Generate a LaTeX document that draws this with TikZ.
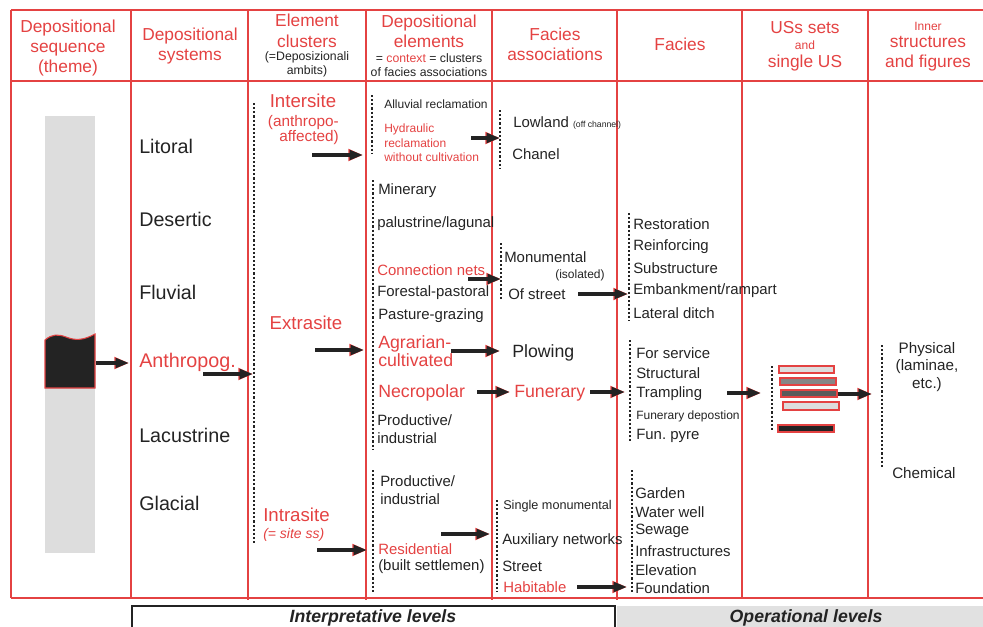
\documentclass[tikz,border=0pt]{standalone}
\usepackage{fontspec}
\setmainfont{Liberation Sans}
\usetikzlibrary{arrows.meta}
\definecolor{tabred}{RGB}{228,66,66}
\definecolor{txt}{RGB}{35,35,35}
\definecolor{colgray}{RGB}{221,221,221}
\definecolor{boxgray}{RGB}{225,225,225}
\frenchspacing

\begin{document}
\begin{tikzpicture}
  [x=0.75pt,y=-0.75pt,
   every node/.style={inner sep=0pt,text=txt,font=\fontsize{11.2}{13.5}\selectfont},
   lt/.style={anchor=west,align=left},
   rd/.style={text=tabred},
   hd/.style={text=tabred,align=center,font=\fontsize{13}{14.8}\selectfont},
   hsm/.style={align=center,font=\fontsize{9.2}{10.5}\selectfont},
   sys/.style={anchor=west,font=\fontsize{14.8}{17}\selectfont},
   clu/.style={text=tabred,font=\fontsize{14}{16}\selectfont},
   big/.style={font=\fontsize{13.3}{13.5}\selectfont},
   sm/.style={font=\fontsize{9}{11}\selectfont},
   grid/.style={draw=tabred,line width=1pt},
   dots/.style={draw=txt,line width=1.9pt,dash pattern=on 1.6pt off 1.5pt},
   bar/.style={draw=tabred,line width=0.8pt},
   flow/.style={draw=txt,line width=2.5pt,-{Triangle[length=10pt,width=7pt]},
     preaction={draw=tabred,line width=3.5pt,-{Triangle[length=11pt,width=8.5pt]}}}]

  \useasboundingbox (0,0) rectangle (983,626);

  \fill[colgray] (45,116) rectangle (95,553);
  \draw[tabred,fill=txt,line width=0.8pt] (45,340) .. controls (52,334) and (58,334) .. (66,337)
    .. controls (76,341) and (84,340) .. (95,334) -- (95,388) -- (45,388) -- cycle;

  \draw[grid] (11,10) -- (983,10);
  \draw[grid] (11,81) -- (983,81);
  \draw[grid] (11,598) -- (983,598);
  \draw[grid] (11,10) -- (11,598);
  \draw[grid] (131,10) -- (131,598);
  \draw[grid] (248,10) -- (248,600);
  \draw[grid] (366,10) -- (366,600);
  \draw[grid] (492,10) -- (492,600);
  \draw[grid] (617,10) -- (617,600);
  \draw[grid] (742,10) -- (742,598);
  \draw[grid] (868,10) -- (868,598);

  \draw[txt,line width=0.8pt] (132,635) -- (132,606) -- (615,606) -- (615,635);
  \fill[boxgray] (617,606) rectangle (990,635);

  \node[hd] (h1) at (68,48) {Depositional\\sequence\\(theme)};
  \node[hd] (h2) at (190,46) {Depositional\\systems};
  \node[hd,font=\fontsize{13}{15.8}\selectfont] (h3) at (307,31) {Element\\clusters};
  \node[hsm] (h3s) at (307,64) {(=Deposizionali\\ambits)};
  \node[hd,font=\fontsize{13}{15}\selectfont] (h4) at (429,31) {Depositional\\elements};
  \node[hsm] (h4s) at (429,65) {= {\color{tabred}context} = clusters\\of facies associations};
  \node[hd] (h5) at (555,44) {Facies\\associations};
  \node[hd] (h6) at (680,44) {Facies};
  \node[hd] (h7a) at (805,28) {USs sets};
  \node[hd,font=\fontsize{9}{10}\selectfont] (h7b) at (805,45) {and};
  \node[hd] (h7c) at (805,63) {single US};
  \node[hd,font=\fontsize{9}{10}\selectfont] (h8a) at (928,26) {Inner};
  \node[hd] (h8b) at (928,54) {structures\\and figures};

  \node[sys] (lit) at (139,146) {Litoral};
  \node[sys] (des) at (139,219) {Desertic};
  \node[sys] (flu) at (139,292) {Fluvial};
  \node[sys,rd] (ant) at (139,362) {Anthropog.};
  \node[sys] (lac) at (139,435) {Lacustrine};
  \node[sys] (gla) at (139,503) {Glacial};

  \draw[dots] (254,103) -- (254,545);
  \node[clu] (inter) at (303,101) {Intersite};
  \node[anchor=east,align=right,rd,font=\fontsize{11.5}{11.8}\selectfont] (interb) at (339,130) {(anthropo-\\affected)};
  \node[clu] (extra) at (306,323) {Extrasite};
  \node[clu,anchor=west] (intra) at (263,515) {Intrasite};
  \node[lt,rd,font=\fontsize{10.5}{12}\selectfont\itshape] (intrab) at (263,535) {(= site ss)};

  \draw[dots] (372,95) -- (372,154);
  \draw[dots] (373,180) -- (373,450);
  \draw[dots] (373,470) -- (373,592);
  \node[lt,sm] (alu) at (384,104) {Alluvial reclamation};
  \node[lt,sm,rd] (hyd) at (384,143) {Hydraulic\\reclamation\\without cultivation};
  \node[lt] (min) at (378,191) {Minerary};
  \node[lt] (pal) at (377,224) {palustrine/lagunal};
  \node[lt,rd] (con) at (377,270) {Connection nets};
  \node[lt] (for) at (377,293) {Forestal-pastoral};
  \node[lt] (pas) at (378,316) {Pasture-grazing};
  \node[lt,rd,big] (agr) at (378,351) {Agrarian-\\cultivated};
  \node[lt,rd,big] (nec) at (378,393) {Necropolar};
  \node[lt] (pro1) at (377,429) {Productive/\\industrial};
  \node[lt] (pro2) at (380,490) {Productive/\\industrial};
  \node[lt,rd] (res) at (378,549) {Residential};
  \node[lt] (bui) at (378,567) {(built settlemen)};

  \draw[dots] (500,110) -- (500,168);
  \draw[dots] (501,243) -- (501,300);
  \draw[dots] (497,500) -- (497,591);
  \node[lt] (low) at (513,123) {Lowland {\fontsize{6.5}{8}\selectfont(off channel)}};
  \node[lt] (cha) at (512,154) {Chanel};
  \node[lt] (mon) at (504,257) {Monumental};
  \node[lt,font=\fontsize{9}{10}\selectfont] (iso) at (555,275) {(isolated)};
  \node[lt] (ofs) at (508,294) {Of street};
  \node[lt,big] (plo) at (512,353) {Plowing};
  \node[lt,rd,big] (fun) at (514,393) {Funerary};
  \node[lt,font=\fontsize{9.5}{11}\selectfont] (sin) at (503,506) {Single monumental};
  \node[lt] (aux) at (502,541) {Auxiliary networks};
  \node[lt] (str) at (502,566) {Street};
  \node[lt,rd] (hab) at (503,587) {Habitable};

  \draw[dots] (629,213) -- (629,321);
  \draw[dots] (630,340) -- (630,442);
  \draw[dots] (632,470) -- (632,594);
  \node[lt] (f1) at (633,224) {Restoration};
  \node[lt] (f2) at (633,247) {Reinforcing};
  \node[lt] (f3) at (633,268) {Substructure};
  \node[lt] (f4) at (633,291) {Embankment/rampart};
  \node[lt] (f5) at (633,313) {Lateral ditch};
  \node[lt] (f6) at (636,353) {For service};
  \node[lt] (f7) at (636,373) {Structural};
  \node[lt] (f8) at (636,394) {Trampling};
  \node[lt,sm] (f9) at (636,416) {Funerary depostion};
  \node[lt] (f10) at (636,436) {Fun. pyre};
  \node[lt] (f11) at (635,493) {Garden};
  \node[lt] (f12) at (635,512) {Water well};
  \node[lt] (f13) at (635,531) {Sewage};
  \node[lt] (f14) at (635,551) {Infrastructures};
  \node[lt] (f15) at (635,570) {Elevation};
  \node[lt] (f16) at (635,588) {Foundation};

  \draw[dots] (772,366) -- (772,432);
  \draw[bar,fill=colgray] (779,366) rectangle (834,373);
  \draw[bar,fill=txt!55] (780,378) rectangle (836,385);
  \draw[bar,fill=txt!75] (781,390) rectangle (837,397);
  \draw[bar,fill=colgray] (783,402) rectangle (839,410);
  \draw[bar,fill=txt] (778,425) rectangle (834,432);

  \draw[dots] (882,345) -- (882,468);
  \node[align=center,font=\fontsize{11.4}{12.8}\selectfont] (phy) at (927,367) {Physical\\(laminae,\\etc.)};
  \node[lt,font=\fontsize{11.4}{12.8}\selectfont] (che) at (892,473) {Chemical};

  \node[font=\fontsize{13.3}{15}\selectfont\bfseries\itshape] (interp) at (373,618) {Interpretative levels};
  \node[font=\fontsize{13.3}{15}\selectfont\bfseries\itshape] (oper) at (806,618) {Operational levels};

  \coordinate (a1) at (96,363);   \coordinate (b1) at (129,363);
  \coordinate (a2) at (203,374);  \coordinate (b2) at (253,374);
  \coordinate (a3) at (312,155);  \coordinate (b3) at (363,155);
  \coordinate (a4) at (471,138);  \coordinate (b4) at (500,138);
  \coordinate (a5) at (468,279);  \coordinate (b5) at (501,279);
  \coordinate (a6) at (578,294);  \coordinate (b6) at (628,294);
  \coordinate (a7) at (315,350);  \coordinate (b7) at (364,350);
  \coordinate (a8) at (451,351);  \coordinate (b8) at (500,351);
  \coordinate (a9) at (477,392);  \coordinate (b9) at (510,392);
  \coordinate (a10) at (590,392); \coordinate (b10) at (625,392);
  \coordinate (a11) at (727,393); \coordinate (b11) at (761,393);
  \coordinate (a12) at (838,394); \coordinate (b12) at (872,394);
  \coordinate (a13) at (317,550); \coordinate (b13) at (367,550);
  \coordinate (a14) at (441,534); \coordinate (b14) at (490,534);
  \coordinate (a15) at (577,587); \coordinate (b15) at (627,587);

  \draw[flow] (a1) -- (b1);
  \draw[flow] (a2) -- (b2);
  \draw[flow] (a3) -- (b3);
  \draw[flow] (a4) -- (b4);
  \draw[flow] (a5) -- (b5);
  \draw[flow] (a6) -- (b6);
  \draw[flow] (a7) -- (b7);
  \draw[flow] (a8) -- (b8);
  \draw[flow] (a9) -- (b9);
  \draw[flow] (a10) -- (b10);
  \draw[flow] (a11) -- (b11);
  \draw[flow] (a12) -- (b12);
  \draw[flow] (a13) -- (b13);
  \draw[flow] (a14) -- (b14);
  \draw[flow] (a15) -- (b15);
\end{tikzpicture}
\end{document}
